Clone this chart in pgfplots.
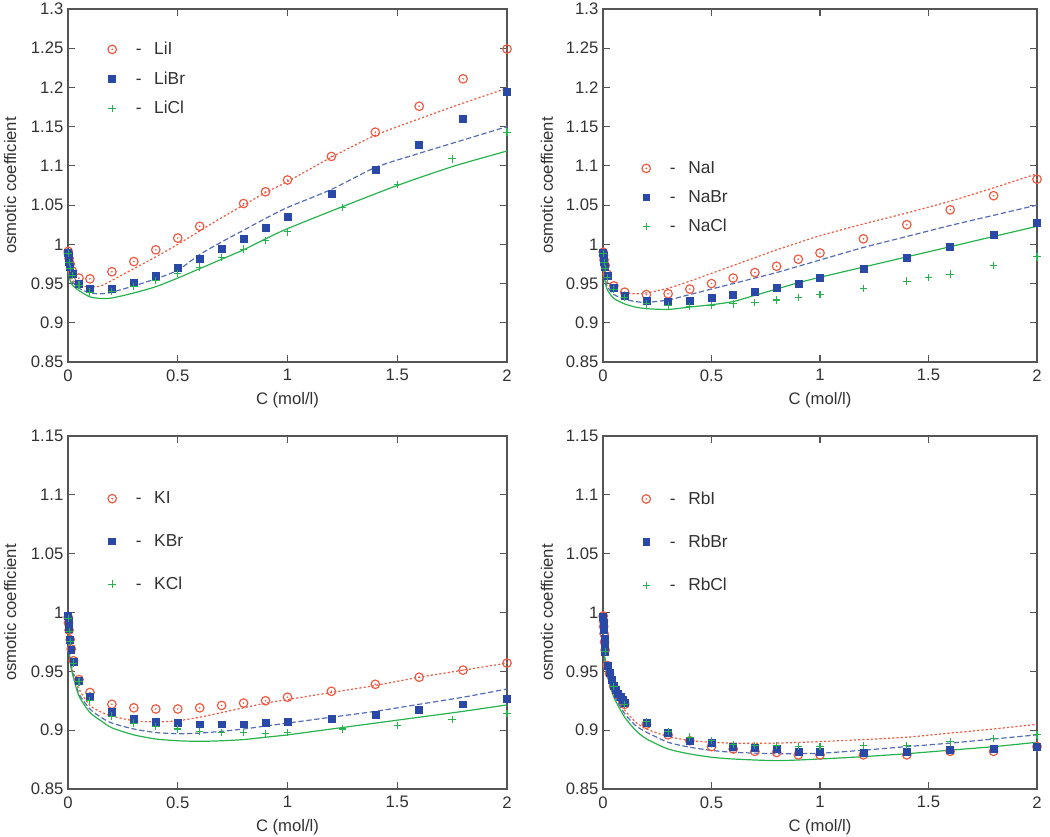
\documentclass[border=0pt]{standalone}
\usepackage{pgfplots}
\pgfplotsset{compat=1.18}
\usepackage{fontspec}
\setmainfont{Liberation Sans}
\definecolor{cred}{RGB}{238,90,66}
\definecolor{cblue}{RGB}{42,72,165}
\definecolor{cgreen}{RGB}{40,178,78}
\definecolor{axgray}{RGB}{85,85,85}
\definecolor{labgray}{RGB}{50,50,50}
\pgfdeclareplotmark{odot}{%
  \pgfpathcircle{\pgfpointorigin}{\pgfplotmarksize}\pgfusepathqstroke
  \pgfpathcircle{\pgfpointorigin}{0.22\pgfplotmarksize}\pgfusepathqfill}
\newcommand{\fs}{\fontsize{12.5}{14}\selectfont}
\newcommand{\fl}{\fontsize{13}{15}\selectfont}
\pgfplotsset{
  osm/.style={
    scale only axis, height=264.75pt, xmin=0, xmax=2,
    xtick={0,0.5,1,1.5,2},
    tick align=inside, tick pos=both, major tick length=5pt,
    axis line style={draw=axgray, line width=0.9pt},
    every tick/.style={axgray, line width=0.9pt},
    tick label style={font=\fs, text=labgray},
    xticklabel style={yshift=-2pt},
    /pgf/number format/assume math mode=true,
    yticklabel style={/pgf/number format/fixed, /pgf/number format/precision=2},
    xlabel={C (mol/l)}, ylabel={osmotic coefficient},
    label style={font=\fs, text=labgray},
    xlabel style={at={(axis description cs:0.5,-0.109)}, anchor=center},
    clip mode=individual,
    legend cell align=left,
    legend image code/.code={\draw[##1] plot coordinates {(0pt,0pt)};},
    legend style={draw=none, fill=none, anchor=north west, inner sep=0pt,
      nodes={inner sep=0pt, font=\fl, text=labgray}, column sep=0pt},
  },
  mI/.style={only marks, mark=odot, mark size=3.2pt, cred, line width=0.9pt},
  mBr/.style={only marks, mark=square*, mark size=2.6pt, cblue},
  mCl/.style={only marks, mark=+, mark size=2.8pt, cgreen, line width=0.8pt},
  cI/.style={no marks, cred, line width=0.9pt, dash pattern=on 1.6pt off 1.6pt, smooth, tension=0.4},
  cBr/.style={no marks, cblue!80!white, line width=0.9pt, dash pattern=on 4pt off 2pt, smooth, tension=0.4},
  cCl/.style={no marks, cgreen, line width=0.9pt, smooth, tension=0.4},
}
\newcommand{\lab}[1]{\hspace{14.5pt}-\hspace{9.5pt}#1}
\begin{document}
\begin{tikzpicture}
\useasboundingbox (0,0) rectangle (787.5pt,-627.75pt);
% ---------------- Li ----------------
\begin{axis}[osm, at={(51pt,-271.5pt)}, anchor=south west, width=329.25pt,
  ymin=0.85, ymax=1.3, ytick={0.85,0.9,0.95,1,1.05,1.1,1.15,1.2,1.25,1.3},
  ylabel style={at={(axis description cs:-0.132,0.5)}, anchor=center},
  legend style={at={(axis description cs:0.0904,0.907)}, row sep=11.25pt}]
\addplot[cI, forget plot] coordinates {(0.0005,0.985)(0.002,0.975)(0.005,0.967)(0.01,0.961)(0.02,0.955)(0.05,0.948)(0.1,0.9455)(0.15,0.947)(0.2,0.954)(0.3,0.969)(0.4,0.984)(0.5,1.000)(0.6,1.017)(0.7,1.034)(0.8,1.050)(0.9,1.066)(1.0,1.080)(1.2,1.111)(1.4,1.139)(1.6,1.160)(1.8,1.180)(2.0,1.199)};
\addplot[cBr, forget plot] coordinates {(0.0005,0.983)(0.002,0.972)(0.005,0.964)(0.01,0.958)(0.02,0.952)(0.05,0.944)(0.1,0.938)(0.15,0.937)(0.2,0.939)(0.3,0.947)(0.4,0.956)(0.5,0.967)(0.6,0.987)(0.7,1.003)(0.8,1.018)(0.9,1.033)(1.0,1.047)(1.2,1.070)(1.4,1.098)(1.6,1.116)(1.8,1.133)(2.0,1.150)};
\addplot[cCl, forget plot] coordinates {(0.0005,0.980)(0.002,0.968)(0.005,0.960)(0.01,0.954)(0.02,0.948)(0.05,0.941)(0.1,0.933)(0.15,0.931)(0.2,0.9316)(0.3,0.938)(0.4,0.946)(0.5,0.957)(0.6,0.969)(0.7,0.981)(0.8,0.993)(0.9,1.007)(1.0,1.020)(1.25,1.048)(1.5,1.075)(1.75,1.099)(2.0,1.119)};
\addplot[mI] coordinates {(0.001,0.991)(0.002,0.988)(0.005,0.982)(0.01,0.975)(0.02,0.966)(0.05,0.957)(0.1,0.956)(0.2,0.965)(0.3,0.978)(0.4,0.993)(0.5,1.008)(0.6,1.023)(0.8,1.052)(0.9,1.067)(1.0,1.082)(1.2,1.112)(1.4,1.143)(1.6,1.176)(1.8,1.211)(2.0,1.249)};
\addlegendentry{\lab{LiI}}
\addplot[mBr] coordinates {(0.001,0.989)(0.002,0.985)(0.005,0.978)(0.01,0.971)(0.02,0.962)(0.05,0.950)(0.1,0.944)(0.2,0.943)(0.3,0.951)(0.4,0.960)(0.5,0.970)(0.6,0.982)(0.7,0.994)(0.8,1.007)(0.9,1.021)(1.0,1.035)(1.2,1.064)(1.4,1.095)(1.6,1.127)(1.8,1.160)(2.0,1.195)};
\addlegendentry{\lab{LiBr}}
\addplot[mCl] coordinates {(0.001,0.988)(0.005,0.977)(0.01,0.969)(0.02,0.960)(0.05,0.948)(0.1,0.939)(0.2,0.940)(0.3,0.946)(0.4,0.954)(0.5,0.963)(0.6,0.971)(0.7,0.983)(0.8,0.994)(0.9,1.005)(1.0,1.016)(1.25,1.047)(1.5,1.076)(1.75,1.109)(2.0,1.143)};
\addlegendentry{\lab{LiCl}}
\end{axis}
% ---------------- Na ----------------
\begin{axis}[osm, at={(452.25pt,-271.5pt)}, anchor=south west, width=325.5pt,
  ymin=0.85, ymax=1.3, ytick={0.85,0.9,0.95,1,1.05,1.1,1.15,1.2,1.25,1.3},
  ylabel style={at={(axis description cs:-0.129,0.5)}, anchor=center},
  legend style={at={(axis description cs:0.0892,0.569)}, row sep=11.25pt}]
\addplot[cI, forget plot] coordinates {(0.0005,0.985)(0.002,0.975)(0.005,0.966)(0.01,0.959)(0.02,0.952)(0.05,0.943)(0.1,0.938)(0.15,0.937)(0.2,0.938)(0.3,0.944)(0.4,0.953)(0.5,0.963)(0.6,0.973)(0.7,0.983)(0.8,0.993)(0.9,1.002)(1.0,1.011)(1.2,1.026)(1.4,1.040)(1.6,1.055)(1.8,1.072)(2.0,1.090)};
\addplot[cBr, forget plot] coordinates {(0.0005,0.984)(0.002,0.973)(0.005,0.963)(0.01,0.955)(0.02,0.946)(0.05,0.936)(0.1,0.930)(0.15,0.927)(0.2,0.926)(0.3,0.929)(0.4,0.936)(0.5,0.943)(0.6,0.950)(0.7,0.957)(0.8,0.964)(0.9,0.972)(1.0,0.980)(1.2,0.996)(1.4,1.010)(1.6,1.024)(1.8,1.037)(2.0,1.050)};
\addplot[cCl, forget plot] coordinates {(0.0005,0.983)(0.002,0.971)(0.005,0.960)(0.01,0.952)(0.02,0.942)(0.05,0.931)(0.1,0.924)(0.15,0.920)(0.2,0.918)(0.3,0.917)(0.4,0.920)(0.5,0.923)(0.6,0.927)(0.7,0.935)(0.8,0.943)(0.9,0.951)(1.0,0.958)(1.2,0.971)(1.4,0.984)(1.6,0.997)(1.8,1.010)(2.0,1.023)};
\addplot[mI] coordinates {(0.001,0.990)(0.002,0.986)(0.005,0.980)(0.01,0.973)(0.02,0.962)(0.05,0.947)(0.1,0.939)(0.2,0.936)(0.3,0.937)(0.4,0.943)(0.5,0.950)(0.6,0.957)(0.7,0.964)(0.8,0.972)(0.9,0.981)(1.0,0.989)(1.2,1.007)(1.4,1.025)(1.6,1.044)(1.8,1.062)(2.0,1.083)};
\addlegendentry{\lab{NaI}}
\addplot[mBr] coordinates {(0.001,0.989)(0.002,0.985)(0.005,0.978)(0.01,0.971)(0.02,0.960)(0.05,0.945)(0.1,0.935)(0.2,0.928)(0.3,0.927)(0.4,0.928)(0.5,0.932)(0.6,0.936)(0.7,0.940)(0.8,0.945)(0.9,0.950)(1.0,0.957)(1.2,0.969)(1.4,0.983)(1.6,0.997)(1.8,1.012)(2.0,1.027)};
\addlegendentry{\lab{NaBr}}
\addplot[mCl] coordinates {(0.001,0.988)(0.005,0.977)(0.01,0.969)(0.02,0.958)(0.05,0.943)(0.1,0.932)(0.2,0.924)(0.3,0.922)(0.4,0.921)(0.5,0.922)(0.6,0.924)(0.7,0.926)(0.8,0.929)(0.9,0.932)(1.0,0.936)(1.2,0.944)(1.4,0.953)(1.5,0.958)(1.6,0.962)(1.8,0.973)(2.0,0.984)};
\addlegendentry{\lab{NaCl}}
\end{axis}
% ---------------- K ----------------
\begin{axis}[osm, at={(51pt,-591.75pt)}, anchor=south west, width=329.25pt,
  ymin=0.85, ymax=1.15, ytick={0.85,0.9,0.95,1,1.05,1.1,1.15},
  ylabel style={at={(axis description cs:-0.132,0.5)}, anchor=center},
  legend style={at={(axis description cs:0.0904,0.843)}, row sep=21.5pt}]
\addplot[cI, forget plot] coordinates {(0.0005,0.991)(0.002,0.982)(0.005,0.972)(0.01,0.962)(0.02,0.952)(0.05,0.935)(0.1,0.921)(0.15,0.9155)(0.2,0.912)(0.3,0.908)(0.4,0.907)(0.5,0.908)(0.6,0.911)(0.7,0.915)(0.8,0.919)(0.9,0.923)(1.0,0.926)(1.2,0.932)(1.4,0.938)(1.6,0.945)(1.8,0.951)(2.0,0.957)};
\addplot[cBr, forget plot] coordinates {(0.0005,0.990)(0.002,0.981)(0.005,0.970)(0.01,0.960)(0.02,0.950)(0.05,0.931)(0.1,0.918)(0.15,0.911)(0.2,0.906)(0.3,0.901)(0.4,0.898)(0.5,0.897)(0.6,0.8975)(0.7,0.899)(0.8,0.901)(0.9,0.9035)(1.0,0.906)(1.2,0.911)(1.4,0.916)(1.6,0.922)(1.8,0.928)(2.0,0.935)};
\addplot[cCl, forget plot] coordinates {(0.0005,0.989)(0.002,0.980)(0.005,0.968)(0.01,0.958)(0.02,0.948)(0.05,0.929)(0.1,0.915)(0.15,0.908)(0.2,0.902)(0.3,0.896)(0.4,0.8925)(0.5,0.891)(0.6,0.8905)(0.7,0.891)(0.8,0.892)(0.9,0.894)(1.0,0.896)(1.2,0.901)(1.4,0.906)(1.6,0.911)(1.8,0.916)(2.0,0.9215)};
\addplot[mI] coordinates {(0.001,0.996)(0.002,0.991)(0.005,0.985)(0.01,0.977)(0.015,0.969)(0.025,0.959)(0.05,0.943)(0.1,0.932)(0.2,0.922)(0.3,0.919)(0.4,0.918)(0.5,0.918)(0.6,0.919)(0.7,0.921)(0.8,0.923)(0.9,0.925)(1.0,0.928)(1.2,0.933)(1.4,0.939)(1.6,0.945)(1.8,0.951)(2.0,0.957)};
\addlegendentry{\lab{KI}}
\addplot[mBr] coordinates {(0.001,0.997)(0.002,0.993)(0.005,0.986)(0.01,0.977)(0.015,0.968)(0.025,0.958)(0.05,0.942)(0.1,0.928)(0.2,0.916)(0.3,0.910)(0.4,0.907)(0.5,0.906)(0.6,0.905)(0.7,0.905)(0.8,0.905)(0.9,0.906)(1.0,0.907)(1.2,0.910)(1.4,0.913)(1.6,0.917)(1.8,0.922)(2.0,0.927)};
\addlegendentry{\lab{KBr}}
\addplot[mCl] coordinates {(0.001,0.995)(0.005,0.984)(0.01,0.975)(0.025,0.957)(0.05,0.941)(0.1,0.925)(0.2,0.912)(0.3,0.906)(0.4,0.903)(0.5,0.901)(0.6,0.899)(0.7,0.898)(0.8,0.898)(0.9,0.897)(1.0,0.898)(1.25,0.901)(1.5,0.904)(1.75,0.909)(2.0,0.914)};
\addlegendentry{\lab{KCl}}
\end{axis}
% ---------------- Rb ----------------
\begin{axis}[osm, at={(452.25pt,-591.75pt)}, anchor=south west, width=325.5pt,
  ymin=0.85, ymax=1.15, ytick={0.85,0.9,0.95,1,1.05,1.1,1.15},
  ylabel style={at={(axis description cs:-0.129,0.5)}, anchor=center},
  legend style={at={(axis description cs:0.0892,0.843)}, row sep=21.5pt}]
\addplot[cI, forget plot] coordinates {(0.0005,0.990)(0.002,0.980)(0.005,0.970)(0.01,0.960)(0.02,0.949)(0.05,0.932)(0.1,0.917)(0.15,0.907)(0.2,0.901)(0.3,0.8946)(0.4,0.8912)(0.5,0.8897)(0.6,0.889)(0.8,0.889)(1.0,0.8903)(1.2,0.892)(1.4,0.894)(1.6,0.8975)(1.8,0.901)(2.0,0.905)};
\addplot[cBr, forget plot] coordinates {(0.0005,0.989)(0.002,0.979)(0.005,0.969)(0.01,0.959)(0.02,0.947)(0.05,0.930)(0.1,0.914)(0.15,0.904)(0.2,0.8983)(0.3,0.8897)(0.4,0.8855)(0.5,0.8828)(0.6,0.8812)(0.8,0.880)(1.0,0.8804)(1.2,0.883)(1.4,0.886)(1.6,0.889)(1.8,0.8925)(2.0,0.896)};
\addplot[cCl, forget plot] coordinates {(0.0005,0.988)(0.002,0.978)(0.005,0.968)(0.01,0.958)(0.02,0.946)(0.05,0.928)(0.1,0.911)(0.15,0.900)(0.2,0.8926)(0.3,0.884)(0.4,0.8798)(0.5,0.877)(0.6,0.8755)(0.8,0.8741)(1.0,0.8755)(1.2,0.8775)(1.4,0.880)(1.6,0.883)(1.8,0.886)(2.0,0.8897)};
\addplot[mI] coordinates {(0.001,0.997)(0.002,0.993)(0.003,0.988)(0.005,0.982)(0.007,0.975)(0.01,0.968)(0.02,0.955)(0.03,0.948)(0.05,0.937)(0.07,0.930)(0.09,0.925)(0.1,0.922)(0.2,0.905)(0.3,0.896)(0.4,0.891)(0.5,0.886)(0.6,0.884)(0.7,0.882)(0.8,0.881)(0.9,0.879)(1.0,0.879)(1.2,0.879)(1.4,0.879)(1.6,0.882)(1.8,0.882)(2.0,0.886)};
\addlegendentry{\lab{RbI}}
\addplot[mBr] coordinates {(0.001,0.996)(0.002,0.991)(0.004,0.985)(0.006,0.978)(0.008,0.972)(0.01,0.967)(0.02,0.955)(0.03,0.949)(0.04,0.943)(0.05,0.938)(0.06,0.934)(0.07,0.931)(0.08,0.928)(0.09,0.926)(0.1,0.923)(0.2,0.906)(0.3,0.898)(0.4,0.891)(0.5,0.889)(0.6,0.886)(0.7,0.885)(0.8,0.884)(0.9,0.882)(1.0,0.882)(1.2,0.881)(1.4,0.882)(1.6,0.883)(1.8,0.884)(2.0,0.886)};
\addlegendentry{\lab{RbBr}}
\addplot[mCl] coordinates {(0.01,0.967)(0.05,0.937)(0.1,0.922)(0.2,0.907)(0.3,0.899)(0.4,0.894)(0.5,0.891)(0.6,0.888)(0.7,0.887)(0.8,0.887)(0.9,0.886)(1.0,0.886)(1.2,0.887)(1.4,0.887)(1.6,0.890)(1.8,0.893)(2.0,0.896)};
\addlegendentry{\lab{RbCl}}
\end{axis}
\end{tikzpicture}
\end{document}
